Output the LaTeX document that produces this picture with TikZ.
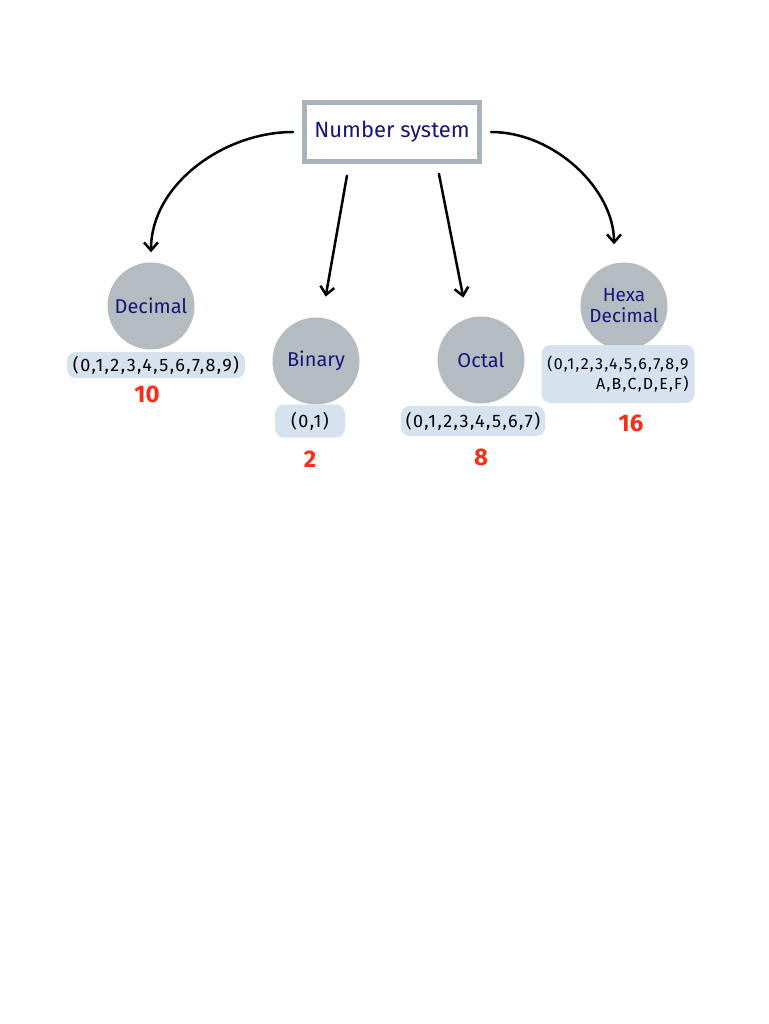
\documentclass[tikz,border=0pt]{standalone}
\usepackage{fontspec}
\setmainfont{Fira Sans}
\newfontfamily\digitfont[LetterSpace=8]{Fira Sans}
\usepackage{xcolor}
\usetikzlibrary{arrows.meta,calc}

\definecolor{ink}{RGB}{22,22,120}
\definecolor{disccol}{RGB}{180,188,194}
\definecolor{wash}{RGB}{214,227,238}
\definecolor{framecol}{RGB}{170,179,185}
\definecolor{basecol}{RGB}{250,45,25}

\begin{document}
\begin{tikzpicture}[x=1pt,y=-1pt,
            box/.style={draw=framecol, line width=5pt, fill=white, minimum width=175pt, minimum height=59pt, text=ink, font=\fontsize{22}{24}\selectfont},
            numdisc/.style={shape=circle, fill=disccol, minimum size=87pt, inner sep=0pt, text=ink, font=\fontsize{20}{22}\selectfont},
            digits/.style={fill=wash, rounded corners=9pt, inner xsep=5pt, inner ysep=4pt, font=\digitfont\fontsize{18}{20}\selectfont},
            base/.style={text=basecol, font=\fontsize{24}{26}\selectfont\bfseries},
            link/.style={line width=2.5pt, line cap=round, -{Straight Barb[length=8pt,width=14pt]}}]
				\useasboundingbox (0,0) rectangle (768,1024);

				\node[box] (ns) at (392,132) {Number system};

				\node[numdisc] (dec) at (151,306) {Decimal};
				\node[numdisc] (bin) at (316,361) {Binary};
				\node[numdisc] (oct) at (481,360) {Octal};
				\node[numdisc, align=center, font=\fontsize{19}{21}\selectfont] (hex) at (624,306) {Hexa\\Decimal};

				\node[digits, minimum width=178pt] (decset) at (156,365) {(0,1,2,3,4,5,6,7,8,9)};
				\node[digits, minimum width=70pt, minimum height=33pt] (binset) at (310,421) {(0,1)};
				\node[digits, minimum width=143pt, minimum height=30pt] (octset) at (473,421) {(0,1,2,3,4,5,6,7)};
				\node[digits, align=right, minimum width=153pt, minimum height=58pt, font=\digitfont\fontsize{16}{20}\selectfont] (hexset) at (618,374) {(0,1,2,3,4,5,6,7,8,9\\A,B,C,D,E,F)};

				\node[base] (decbase) at (147,394) {10};
				\node[base] (binbase) at (310,459) {2};
				\node[base] (octbase) at (481,457) {8};
				\node[base] (hexbase) at (631,423) {16};

				\draw[link, shorten <=9pt, shorten >=10pt] (ns.west) to[out=180,in=90] (dec.north);
				\draw[link, shorten <=12pt, shorten >=21pt] ($(ns.south)+(-43,0)$) -- ($(bin.north)+(6,0)$);
				\draw[link, shorten <=10pt, shorten >=19pt] ($(ns.south)+(45,0)$) -- ($(oct.north)+(-14,0)$);
				\draw[link, shorten <=9pt, shorten >=18pt] (ns.east) to[out=0,in=90] ($(hex.north)+(-10,0)$);
		\end{tikzpicture}
\end{document}
